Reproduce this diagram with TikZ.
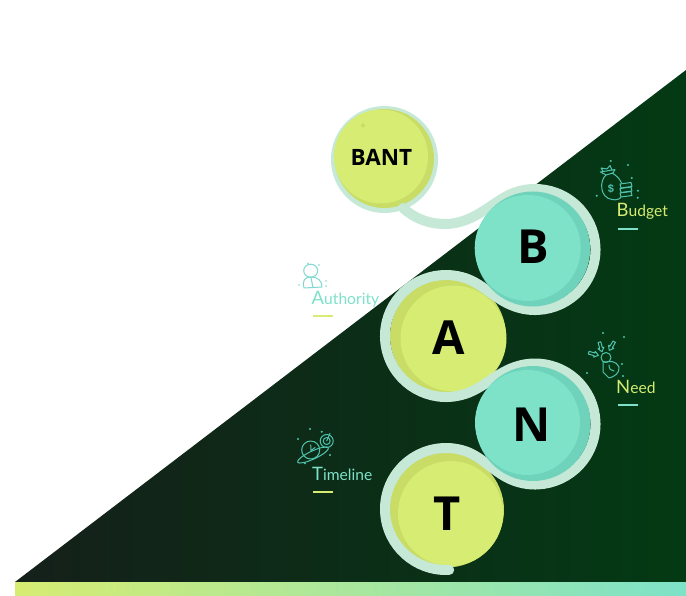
\documentclass[tikz,border=0pt]{standalone}
\usepackage{fontspec}
\setmainfont{Lato}
\newfontfamily\bigfont{Open Sans}
\newfontfamily\arialfont{Liberation Sans}
\usetikzlibrary{calc,arrows.meta}
\definecolor{lime}{HTML}{D6EC72}
\definecolor{limedk}{HTML}{C8DC66}
\definecolor{mint}{HTML}{7DE2C8}
\definecolor{mintdk}{HTML}{6FD2BB}
\definecolor{rib}{HTML}{C6E8D6}
\definecolor{icon}{HTML}{4FC3AE}
\definecolor{iconpale}{HTML}{7FD9D0}
\definecolor{bgl}{HTML}{15201A}
\definecolor{bgm}{HTML}{0A3018}
\definecolor{bgr}{HTML}{033A14}
\tikzset{
  ribbon/.style={draw=rib,line width=10pt,line cap=round,line join=round},
  bigletter/.style={anchor=base,inner sep=0pt,font=\bigfont\bfseries\fontsize{47}{47}\selectfont,text=black},
  icn/.style={draw=icon,line width=1pt,line cap=round,line join=round},
  icnpale/.style={draw=iconpale,line width=1pt,line cap=round,line join=round},
  dotm/.style={fill=icon,draw=none},
  lbl/.style={anchor=base west,inner sep=0pt},
  bar/.style={line width=2pt}
}
\newcommand{\lab}[2]{{\fontsize{18.5}{18.5}\selectfont #1}{\fontsize{15.6}{15.6}\selectfont #2}}
\newcommand{\blockarrow}[3]{\draw[icn,shift={(#1,#2)},rotate=#3] (-5,-1.4) -- (1,-1.4) -- (1,-3) -- (5,0) -- (1,3) -- (1,1.4) -- (-5,1.4) -- cycle;}
\begin{document}
\begin{tikzpicture}[yscale=-1,x=1pt,y=1pt]
\useasboundingbox (0,0) rectangle (686,596);
\fill[white] (0,0) rectangle (686,596);
% dark background
\shade[left color=bgl,middle color=bgm,right color=bgr]
  (15,582) -- (686,70) -- (686,582) -- cycle;
\shade[left color=lime,right color=mint] (15,582) rectangle (686,596);
% centres
\coordinate (cBANT) at (384.5,159.5);
\coordinate (cB) at (535,249.5);
\coordinate (cA) at (446,336);
\coordinate (cN) at (535,424);
\coordinate (cT) at (446,509);
% BANT
\fill[rib] (cBANT) circle (53.5);
\fill[limedk] (384.5,158.5) circle (49.5);
\fill[lime] (381,156.5) circle (47);
\fill[limedk] (363,125.5) circle (2);
\node[anchor=base,inner sep=0pt,font=\bigfont\bfseries\fontsize{22.5}{22.5}\selectfont] (bant) at (381.5,166) {BANT};
% A and T under the ribbon
\fill[limedk] (448,336) circle (58);
\fill[lime] (453.5,338.5) circle (53);
\fill[limedk] (446.5,510) circle (57.5);
\fill[lime] (450.5,513.5) circle (52.5);
% ribbon
\draw[ribbon]
  ($(cT)+(87:61)$) arc[start angle=87,end angle=285,radius=61]
  .. controls +(20,5) and ($(cN)+(110:60.5)+(-20,-7)$) .. ($(cN)+(110:60.5)$)
  arc[start angle=110,end angle=-110,radius=60.5]
  .. controls +(-20,7) and ($(cA)+(75:61)+(20,-5)$) .. ($(cA)+(75:61)$)
  arc[start angle=75,end angle=285,radius=61]
  .. controls +(20,5) and ($(cB)+(110:60.5)+(-20,-7)$) .. ($(cB)+(110:60.5)$)
  arc[start angle=110,end angle=-110,radius=60.5]
  .. controls +(-20,7) and (475,224) .. (445,224)
  .. controls (428,224) and (414,218) .. (403,208);
% B and N above the ribbon
\fill[mintdk] (532.7,249) circle (57.5);
\fill[mint] (527.7,248) circle (53);
\fill[mintdk] (533,423.5) circle (57.5);
\fill[mint] (527.5,422.5) circle (52.5);
\node[bigletter] (lB) at (533,264) {B};
\node[bigletter] (lA) at (449,354.5) {A};
\node[bigletter] (lN) at (531.5,441.7) {N};
\node[bigletter] (lT) at (446.8,530) {T};
% labels
\node[lbl,text=lime] (tB) at (616.5,217) {\lab{B}{udget}};
\node[lbl,text=mint] (tA) at (311.5,305) {\lab{A}{uthority}};
\node[lbl,text=lime] (tN) at (616,393) {\lab{N}{eed}};
\node[lbl,text=mint] (tT) at (312,480.7) {\lab{T}{imeline}};
\draw[bar,draw=mint] (617.5,229) -- (638,229);
\draw[bar,draw=lime] (313,316) -- (333,316);
\draw[bar,draw=mint] (618,405) -- (638,405);
\draw[bar,draw=lime] (313,491.5) -- (333,491.5);
% budget icon
\draw[icn] (606,175) .. controls (599,181) and (600,198) .. (612,199.5) .. controls (616,200.5) and (620,199) .. (621,197);
\draw[icn] (612,173) .. controls (616,175) and (620,179) .. (621.5,183);
\draw[icn] (600.5,172) -- (615,169.5) -- (613,173) -- (606,175) -- cycle;
\draw[icn] (603,171) -- (601,168) -- (607,169) -- (610,165.5) -- (612,170);
\node[inner sep=0pt,text=icon,font=\arialfont\bfseries\fontsize{11}{11}\selectfont] (dol) at (611,188.5) {\$};
\foreach \yy in {184,188.5,193}{\draw[icn] (620,\yy) -- (631,\yy-1.5) -- (632,\yy+2.5) -- (621,\yy+4) -- cycle;}
\foreach \p in {(610.7,161),(628,165),(631.7,178),(638,190.7),(637.7,197.7),(596.7,195.7)} \fill[dotm] \p circle (1.1);
% authority icon
\draw[icnpale] (310.7,270.7) ellipse (7 and 6.5);
\draw[icnpale] (304,288) .. controls (302,280) and (305,277) .. (311,277) .. controls (318,277) and (322,281) .. (322,287) -- (313,287.5) -- cycle;
\draw[icnpale] (311,277.5) -- (313,287.5);
\foreach \p in {(299,285),(308,263.5),(319,265),(326,281),(326,286)} \fill[iconpale] \p circle (0.9);
% need icon
\draw[icn] (606,357.5) circle (5);
\draw[icn] (612,361.5) -- (603,362) -- (603,372) -- (609,378) .. controls (614,377) and (620,373) .. (619,367) .. controls (618,364) and (615,362) .. (612,361.5);
\draw[icn] (609,365) .. controls (609,369) and (611,371) .. (614,371);
\blockarrow{600.7}{347}{75}
\blockarrow{611.7}{346}{120}
\blockarrow{593.5}{354}{15}
\foreach \p in {(603,333),(624,337),(622,364),(623,376),(587,373)} \fill[dotm] \p circle (1.1);
% timeline icon
\draw[icn] (310.7,450) circle (9);
\draw[icn] (310.7,445) -- (311,450.5) -- (315,447.5);
\draw[icn,rotate around={-25:(313,455)}] (313,455) ellipse (17 and 4);
\draw[icn] (326.7,441) circle (6.5);
\draw[icn] (326.7,441) circle (3.5);
\draw[icn] (326.7,441) -- (330,433.5);
\foreach \p in {(310,429),(298,439),(321.7,431.7),(330,455),(305,463.3)} \fill[dotm] \p circle (1.1);
\end{tikzpicture}
\end{document}
